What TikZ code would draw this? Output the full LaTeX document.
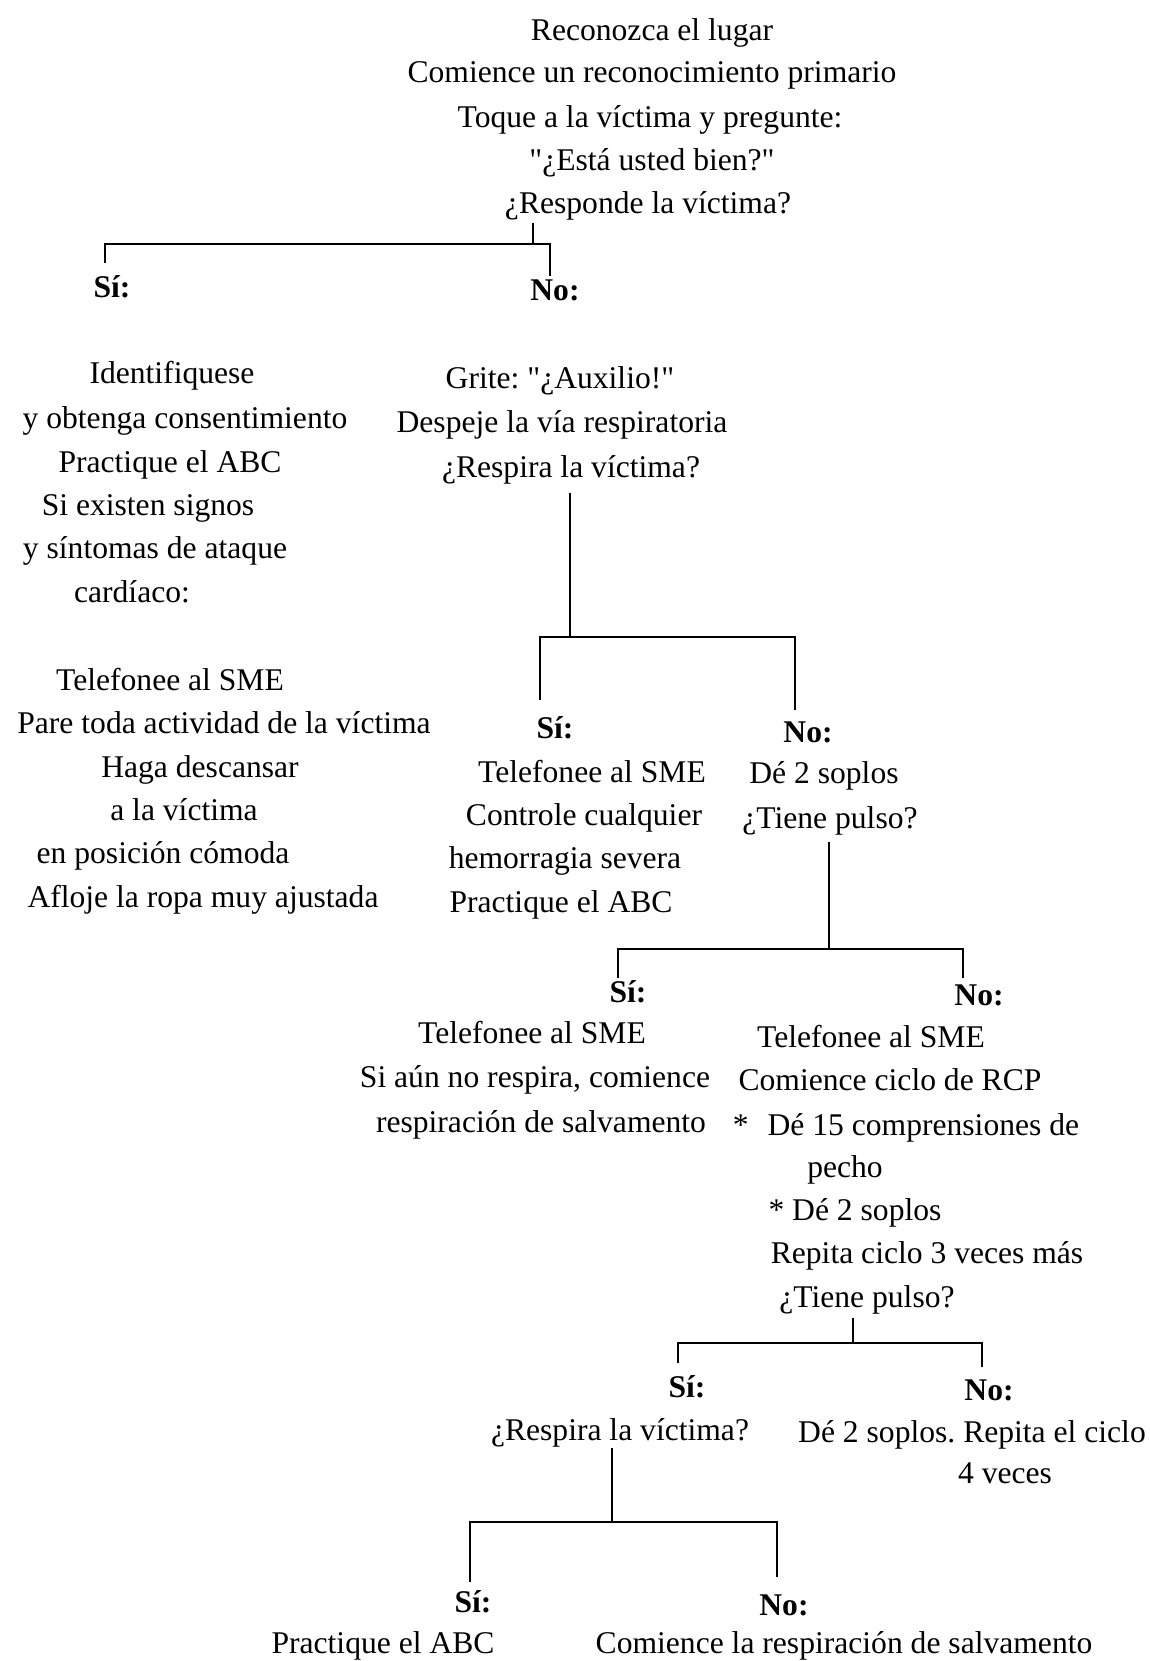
\documentclass[tikz,border=0pt]{standalone}
\usepackage{fontspec}
\setmainfont{Liberation Serif}[Ligatures=TeXOff]
\usepackage{tikz}
\frenchspacing

\begin{document}
\begin{tikzpicture}[x=0.5pt,y=-0.5pt,line width=0.8pt,
  txt/.style={anchor=base,inner sep=0pt,font=\fontsize{15.8}{19}\selectfont},
  yn/.style={txt,font=\fontsize{15.8}{19}\selectfont\bfseries}]
\useasboundingbox (0,0) rectangle (1150,1661);
%Inicio
\node[txt] (top1) at (652,40) {Reconozca el lugar};
\node[txt] (top2) at (652,82) {Comience un reconocimiento primario};
\node[txt] (top3) at (650,127) {Toque a la víctima y pregunte:};
\node[txt] (top4) at (652,170) {"¿Está usted bien?"};
\node[txt] (top5) at (648,213) {¿Responde la víctima?};
%llave 1
\coordinate (k1t) at (533,223);
\coordinate (k1) at (533,244);
\coordinate (k1l) at (105,244);
\coordinate (k1r) at (550,244);
\coordinate (k1le) at (105,263);
\coordinate (k1re) at (550,276);
\draw (k1t) -- (k1);
\draw (k1le) -- (k1l) -- (k1r) -- (k1re);
\node[yn] (si1) at (112,297) {Sí:};
\node[yn] (no1) at (555,300) {No:};
%Sí: responde
\node[txt] (a1) at (172,383) {Identifiquese};
\node[txt] (a2) at (185,428) {y obtenga consentimiento};
\node[txt] (a3) at (170,472) {Practique el ABC};
\node[txt] (a4) at (148,515) {Si existen signos};
\node[txt] (a5) at (155,558) {y síntomas de ataque};
\node[txt] (a6) at (132,602) {cardíaco:};
\node[txt] (a7) at (170,690) {Telefonee al SME};
\node[txt] (a8) at (224,733) {Pare toda actividad de la víctima};
\node[txt] (a9) at (200,777) {Haga descansar};
\node[txt] (a10) at (184,820) {a la víctima};
\node[txt] (a11) at (163,863) {en posición cómoda};
\node[txt] (a12) at (203,907) {Afloje la ropa muy ajustada};
%No: responde
\node[txt] (b1) at (560,388) {Grite: "¿Auxilio!"};
\node[txt] (b2) at (562,432) {Despeje la vía respiratoria};
\node[txt] (b3) at (571,477) {¿Respira la víctima?};
%llave 2
\coordinate (k2t) at (570,493);
\coordinate (k2) at (570,637);
\coordinate (k2l) at (540,637);
\coordinate (k2r) at (795,637);
\coordinate (k2le) at (540,700);
\coordinate (k2re) at (795,710);
\draw (k2t) -- (k2);
\draw (k2le) -- (k2l) -- (k2r) -- (k2re);
\node[yn] (si2) at (555,738) {Sí:};
\node[yn] (no2) at (808,742) {No:};
\node[txt] (c1) at (592,782) {Telefonee al SME};
\node[txt] (c2) at (584,825) {Controle cualquier};
\node[txt] (c3) at (565,868) {hemorragia severa};
\node[txt] (c4) at (561,912) {Practique el ABC};
\node[txt] (d1) at (824,783) {Dé 2 soplos};
\node[txt] (d2) at (830,828) {¿Tiene pulso?};
%llave 3
\coordinate (k3t) at (829,842);
\coordinate (k3) at (829,949);
\coordinate (k3l) at (618,949);
\coordinate (k3r) at (963,949);
\coordinate (k3le) at (618,978);
\coordinate (k3re) at (963,978);
\draw (k3t) -- (k3);
\draw (k3le) -- (k3l) -- (k3r) -- (k3re);
\node[yn] (si3) at (628,1002) {Sí:};
\node[yn] (no3) at (979,1005) {No:};
\node[txt] (e1) at (532,1043) {Telefonee al SME};
\node[txt] (e2) at (535,1087) {Si aún no respira, comience};
\node[txt] (e3) at (541,1132) {respiración de salvamento};
\node[txt] (f1) at (871,1047) {Telefonee al SME};
\node[txt] (f2) at (890,1090) {Comience ciclo de RCP};
\node[txt] (f3) at (906,1135) {*\hspace{0.6em}Dé 15 comprensiones de};
\node[txt] (f4) at (845,1177) {pecho};
\node[txt] (f5) at (855,1220) {* Dé 2 soplos};
\node[txt] (f6) at (927,1263) {Repita ciclo 3 veces más};
\node[txt] (f7) at (867,1307) {¿Tiene pulso?};
%llave 4
\coordinate (k4t) at (853,1318);
\coordinate (k4) at (853,1343);
\coordinate (k4l) at (678,1343);
\coordinate (k4r) at (982,1343);
\coordinate (k4le) at (678,1363);
\coordinate (k4re) at (982,1367);
\draw (k4t) -- (k4);
\draw (k4le) -- (k4l) -- (k4r) -- (k4re);
\node[yn] (si4) at (687,1397) {Sí:};
\node[yn] (no4) at (989,1400) {No:};
\node[txt] (g1) at (620,1440) {¿Respira la víctima?};
\node[txt] (h1) at (972,1442) {Dé 2 soplos. Repita el ciclo};
\node[txt] (h2) at (1005,1483) {4 veces};
%llave 5
\coordinate (k5t) at (612,1448);
\coordinate (k5) at (612,1522);
\coordinate (k5l) at (470,1522);
\coordinate (k5r) at (777,1522);
\coordinate (k5le) at (470,1582);
\coordinate (k5re) at (777,1577);
\draw (k5t) -- (k5);
\draw (k5le) -- (k5l) -- (k5r) -- (k5re);
\node[yn] (si5) at (473,1612) {Sí:};
\node[yn] (no5) at (784,1615) {No:};
\node[txt] (i1) at (383,1653) {Practique el ABC};
\node[txt] (j1) at (844,1653) {Comience la respiración de salvamento};
\end{tikzpicture}
\end{document}
